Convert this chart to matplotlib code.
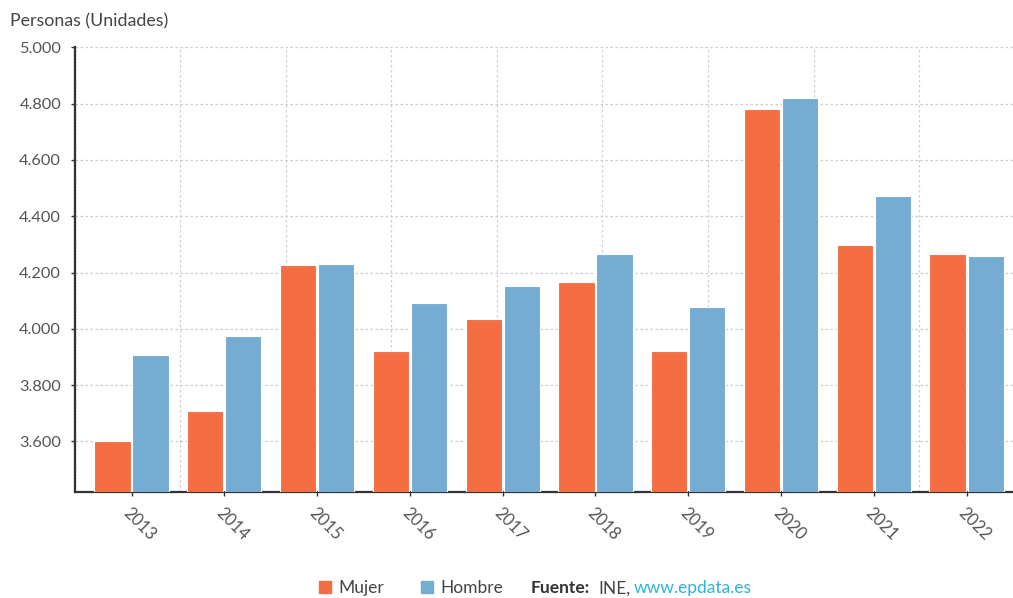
import numpy as np
from matplotlib import pyplot as plt
from matplotlib.ticker import FuncFormatter
from matplotlib.patches import Patch

plt.rcParams['font.family'] = ['Lato', 'DejaVu Sans']

anos = ['2013', '2014', '2015', '2016', '2017', '2018', '2019', '2020', '2021', '2022']
mujer = [3603, 3707, 4225, 3923, 4034, 4165, 3923, 4780, 4297, 4264]
hombre = [3906, 3973, 4229, 4090, 4151, 4264, 4076, 4819, 4471, 4257]

c_mujer = '#f46d43'
c_hombre = '#74add1'

fig = plt.figure(figsize=(10.13, 5.98), dpi=100)
ax = fig.add_axes([0.074, 0.177, 0.926, 0.744])

x = np.arange(len(anos))
ax.bar(x - 0.205, mujer, width=0.39, color=c_mujer, edgecolor='white', linewidth=0.8, label='Mujer', zorder=3)
ax.bar(x + 0.205, hombre, width=0.39, color=c_hombre, edgecolor='white', linewidth=0.8, label='Hombre', zorder=3)

ax.set_xlim(-0.61, 9.5)
ax.set_ylim(3420, 5000)
ax.set_yticks(range(3600, 5001, 200))
ax.yaxis.set_major_formatter(FuncFormatter(lambda v, p: f'{int(v):,}'.replace(',', '.')))
ax.set_xticks(x)
ax.set_xticklabels(anos, rotation=-45, ha='left', rotation_mode='anchor')

# rejilla
ax.grid(axis='y', color='#cccccc', linestyle=(0, (2, 2)), linewidth=0.9, zorder=0)
for gx in 0.523 + 1.138 * np.arange(8):
    ax.axvline(gx, color='#d0d0d0', linestyle=(0, (2, 2)), linewidth=0.9, zorder=0)

for s in ['top', 'right']:
    ax.spines[s].set_visible(False)
ax.spines['left'].set_color('#333333')
ax.spines['left'].set_linewidth(1.6)
ax.spines['left'].set_linestyle((0, (1, 0.6)))
ax.spines['bottom'].set_color('#333333')
ax.spines['bottom'].set_linewidth(1.6)

ax.tick_params(axis='y', length=3, width=1, color='#333333', labelcolor='#555555', labelsize=11.8, pad=7)
ax.tick_params(axis='x', length=3, width=1, color='#333333', labelcolor='#555555', labelsize=12, pad=6)

fig.text(0.01, 0.965, 'Personas (Unidades)', fontsize=12.8, color='#444444', va='center')

# leyenda y fuente
fs = 12.5
yl = 0.016
handles = [Patch(color=c_mujer, label='Mujer'), Patch(color=c_hombre, label='Hombre')]
fig.legend(handles=handles, loc='center left', bbox_to_anchor=(0.299, yl), ncol=2, frameon=False,
           fontsize=fs, handlelength=0.7, handleheight=0.7, handletextpad=0.45, columnspacing=2.1,
           labelcolor='#444444')
fig.text(531 / 1013, yl, 'Fuente:', fontsize=fs, fontweight='bold', color='#333333', va='center')
fig.text(598 / 1013, yl, 'INE,', fontsize=fs, color='#444444', va='center')
fig.text(634 / 1013, yl, 'www.epdata.es', fontsize=fs, color='#2bb5d8', va='center')

plt.savefig('out.png', dpi=100)
